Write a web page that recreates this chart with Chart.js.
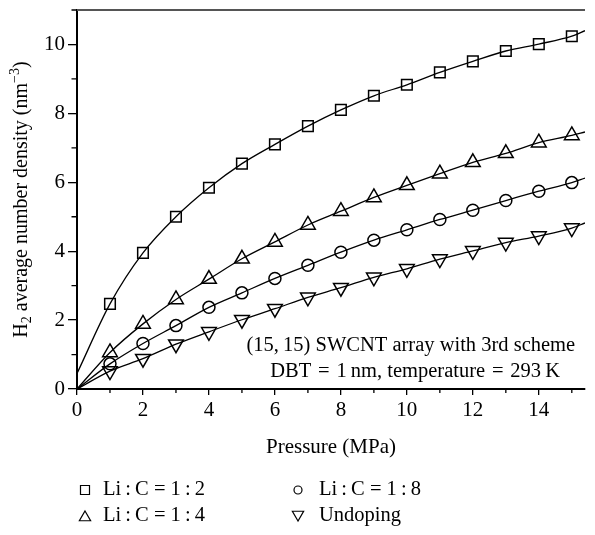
<!DOCTYPE html>
<html>
<head>
<meta charset="utf-8">
<script src="https://cdn.jsdelivr.net/npm/chart.js@4.4.0/dist/chart.umd.min.js"></script>
<style>
  html, body { margin: 0; padding: 0; background: #fff; }
  #wrap { width: 595px; height: 535px; }
</style>
</head>
<body>
<div id="wrap"><canvas id="densityChart" width="595" height="535"></canvas></div>
<script>
// ====== DATA ======
const pressure = [1, 2, 3, 4, 5, 6, 7, 8, 9, 10, 11, 12, 13, 14, 15];
const densityLiC12 = [2.47, 3.95, 5.00, 5.84, 6.54, 7.10, 7.63, 8.10, 8.51, 8.83, 9.19, 9.51, 9.81, 10.01, 10.24];
const densityLiC14 = [1.06, 1.89, 2.60, 3.19, 3.78, 4.27, 4.76, 5.16, 5.56, 5.91, 6.25, 6.58, 6.84, 7.15, 7.36];
const densityLiC18 = [0.73, 1.32, 1.84, 2.37, 2.79, 3.21, 3.59, 3.97, 4.32, 4.62, 4.92, 5.19, 5.47, 5.74, 5.99];
const densityUndoped = [0.52, 0.88, 1.30, 1.66, 2.01, 2.33, 2.66, 2.94, 3.24, 3.49, 3.77, 4.01, 4.25, 4.44, 4.67];

// fitted curves: value at 0 MPa and at the right end of the axis
const fitAtZero = [0.45, 0, 0, 0];
const fitAtEdge = [10.40, 7.46, 6.12, 4.82];

const seriesLabels = ['Li\u2009:\u2009C = 1\u2009:\u20092', 'Li\u2009:\u2009C = 1\u2009:\u20094', 'Li\u2009:\u2009C = 1\u2009:\u20098', 'Undoping'];
const noteLines = ['(15,\u200915) SWCNT array with 3rd scheme', 'DBT\u2004=\u20041\u2009nm, temperature\u2004=\u2004293\u2009K'];
// =================

const X_MAX = 15.4;
const Y_MAX = 11;
const SERIF = "'Liberation Serif', 'Times New Roman', serif";

const seriesData = [densityLiC12, densityLiC14, densityLiC18, densityUndoped];
const markerStyle = [
  { pointStyle: 'rect', radius: 7.5, rotation: 0 },
  { pointStyle: 'triangle', radius: 8.5, rotation: 0 },
  { pointStyle: 'circle', radius: 6, rotation: 0 },
  { pointStyle: 'triangle', radius: 8.5, rotation: 180 }
];

const datasets = [];
seriesData.forEach((values, i) => {
  const curve = [{ x: 0, y: fitAtZero[i] }]
    .concat(pressure.map((p, k) => ({ x: p, y: values[k] })))
    .concat([{ x: X_MAX, y: fitAtEdge[i] }]);
  datasets.push({
    label: seriesLabels[i] + ' fit',
    data: curve,
    borderColor: '#000',
    borderWidth: 1.3,
    pointRadius: 0,
    fill: false,
    cubicInterpolationMode: 'monotone'
  });
  datasets.push({
    label: seriesLabels[i],
    data: pressure.map((p, k) => ({ x: p, y: values[k] })),
    showLine: false,
    pointStyle: markerStyle[i].pointStyle,
    pointRadius: markerStyle[i].radius,
    pointRotation: markerStyle[i].rotation,
    pointBorderColor: '#000',
    pointBackgroundColor: 'rgba(0,0,0,0)',
    pointBorderWidth: 1.5
  });
});

// minor ticks on both axes + grey top frame line
const minorTicks = {
  id: 'minorTicks',
  afterDraw(chart) {
    const { ctx, chartArea: a, scales: { x, y } } = chart;
    ctx.save();
    ctx.strokeStyle = '#000';
    ctx.lineWidth = 1.3;
    ctx.beginPath();
    for (let v = 1; v <= 15; v += 2) {
      const px = x.getPixelForValue(v);
      ctx.moveTo(px, a.bottom);
      ctx.lineTo(px, a.bottom + 4);
    }
    for (let v = 1; v <= Y_MAX; v += 2) {
      const py = y.getPixelForValue(v);
      ctx.moveTo(a.left, py);
      ctx.lineTo(a.left - 5.5, py);
    }
    ctx.stroke();
    ctx.strokeStyle = '#555';
    ctx.lineWidth = 2;
    ctx.beginPath();
    ctx.moveTo(a.left, a.top);
    ctx.lineTo(a.right, a.top);
    ctx.stroke();
    ctx.restore();
  }
};

// y title with subscript / superscript
const yTitle = {
  id: 'yTitle',
  afterDraw(chart) {
    const { ctx, chartArea: a } = chart;
    const size = 20;
    const parts = [
      { t: 'H', k: 'n' },
      { t: '2', k: 'sub' },
      { t: ' average number density (nm', k: 'n' },
      { t: '\u22123', k: 'sup' },
      { t: ')', k: 'n' }
    ];
    const fontFor = k => (k === 'n' ? size : Math.round(size * 0.68)) + 'px ' + SERIF;
    ctx.save();
    let total = 0;
    parts.forEach(p => { ctx.font = fontFor(p.k); p.w = ctx.measureText(p.t).width; total += p.w; });
    ctx.translate(22, (a.top + a.bottom) / 2);
    ctx.rotate(-Math.PI / 2);
    ctx.fillStyle = '#000';
    ctx.textBaseline = 'middle';
    let cx = -total / 2;
    parts.forEach(p => {
      ctx.font = fontFor(p.k);
      const dy = p.k === 'sub' ? size * 0.28 : p.k === 'sup' ? -size * 0.33 : 0;
      ctx.fillText(p.t, cx, dy);
      cx += p.w;
    });
    ctx.restore();
  }
};

// annotation text inside the plot
const noteText = {
  id: 'noteText',
  afterDraw(chart) {
    const { ctx, scales: { x, y } } = chart;
    ctx.save();
    ctx.font = '20.5px ' + SERIF;
    ctx.fillStyle = '#000';
    ctx.textAlign = 'center';
    ctx.textBaseline = 'middle';
    ctx.fillText(noteLines[0], x.getPixelForValue(10.12), y.getPixelForValue(1.25));
    ctx.fillText(noteLines[1], x.getPixelForValue(10.25), y.getPixelForValue(0.5));
    ctx.restore();
  }
};

function drawMarker(ctx, kind, cx, cy, r, rot) {
  ctx.beginPath();
  if (kind === 'rect') {
    ctx.rect(cx - r, cy - r, 2 * r, 2 * r);
  } else if (kind === 'circle') {
    ctx.arc(cx, cy, r, 0, Math.PI * 2);
  } else {
    let ang = rot * Math.PI / 180;
    for (let k = 0; k < 3; k++) {
      const px = cx + Math.sin(ang) * r;
      const py = cy - Math.cos(ang) * r;
      if (k === 0) ctx.moveTo(px, py); else ctx.lineTo(px, py);
      ang += Math.PI * 2 / 3;
    }
    ctx.closePath();
  }
  ctx.stroke();
}

// two-column legend under the axis
const bottomLegend = {
  id: 'bottomLegend',
  afterDraw(chart) {
    const { ctx } = chart;
    const slots = [
      { col: 0, row: 0, r: 4.5 },
      { col: 0, row: 1, r: 6.5 },
      { col: 1, row: 0, r: 4 },
      { col: 1, row: 1, r: 6.5 }
    ];
    const colMarkerX = [85, 298];
    const colTextX = [103, 319];
    const rowY = [490, 516];
    ctx.save();
    ctx.strokeStyle = '#000';
    ctx.lineWidth = 1.2;
    ctx.fillStyle = '#000';
    ctx.font = '20.5px ' + SERIF;
    ctx.textBaseline = 'middle';
    seriesLabels.forEach((lab, i) => {
      const s = slots[i];
      const m = markerStyle[i];
      drawMarker(ctx, m.pointStyle, colMarkerX[s.col], rowY[s.row] + (m.pointStyle === 'triangle' ? (m.rotation ? -1.5 : 1.5) : 0), s.r, m.rotation);
      ctx.fillText(lab, colTextX[s.col], rowY[s.row]);
    });
    ctx.restore();
  }
};

const tickFont = { family: SERIF, size: 21 };

new Chart(document.getElementById('densityChart').getContext('2d'), {
  type: 'line',
  data: { datasets },
  plugins: [minorTicks, yTitle, noteText, bottomLegend],
  options: {
    responsive: false,
    animation: false,
    layout: { padding: { top: 2, right: 0, bottom: 70, left: 0 } },
    plugins: { legend: { display: false }, tooltip: { enabled: false } },
    scales: {
      x: {
        type: 'linear',
        min: 0,
        max: X_MAX,
        ticks: { stepSize: 2, includeBounds: false, color: '#000', font: tickFont, padding: 3, maxRotation: 0 },
        grid: { drawOnChartArea: false, tickLength: 6, color: '#000', lineWidth: 1.3 },
        border: { color: '#000', width: 2 },
        title: { display: true, text: 'Pressure (MPa)', color: '#000', font: { family: SERIF, size: 21 }, padding: { top: 0, bottom: 5 } },
        afterFit: s => { s.height = 76; s.paddingLeft = 0; s.paddingRight = 0; }
      },
      y: {
        type: 'linear',
        min: 0,
        max: Y_MAX,
        ticks: { stepSize: 2, includeBounds: false, color: '#000', font: tickFont, padding: 3 },
        grid: { drawOnChartArea: false, tickLength: 9, color: '#000', lineWidth: 1.3 },
        border: { color: '#000', width: 2 },
        afterFit: s => { s.width = 77; s.paddingTop = 0; s.paddingBottom = 0; }
      }
    }
  }
});
</script>
</body>
</html>
